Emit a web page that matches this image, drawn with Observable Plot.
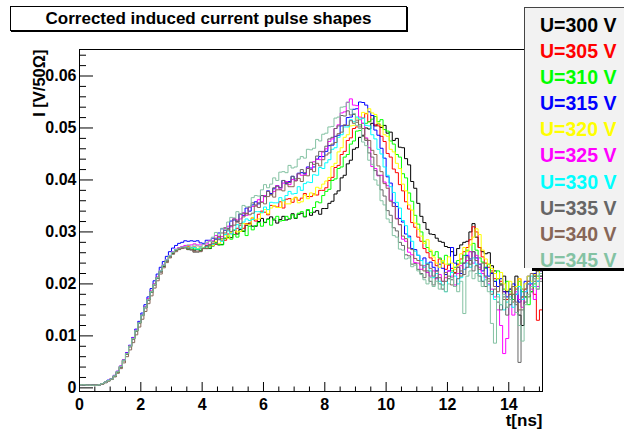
<!DOCTYPE html>
<html><head><meta charset="utf-8">
<script src="https://cdn.jsdelivr.net/npm/d3@7"></script>
<script src="https://cdn.jsdelivr.net/npm/@observablehq/plot@0.6"></script>
<style>
html,body{margin:0;padding:0;background:#fff;}
#wrap{position:relative;width:624px;height:431px;overflow:hidden;font-family:"Liberation Sans",Arial,sans-serif;font-weight:bold;}
#title{position:absolute;left:10px;top:6px;width:395px;height:23px;border:1px solid #000;box-shadow:1px 1px 0 #000;background:#fff;font-size:17px;line-height:23px;text-align:center;}
#legend{position:absolute;left:524px;top:7px;width:110px;height:261px;background:#f2f2f2;border-left:1px solid #444;border-top:1px solid #444;box-sizing:border-box;padding-top:4px;}
#legend div{height:26.1px;line-height:26.1px;padding-left:15px;font-size:19.5px;white-space:nowrap;}
#shadow{position:absolute;left:532px;top:268px;width:92px;height:3px;background:#000;}
</style></head>
<body><div id="wrap"></div>
<script>
// bin layout of the histograms (ns)
const dt = 0.1, tMax = 15.1;
const labels = ["U=300 V","U=305 V","U=310 V","U=315 V","U=320 V","U=325 V","U=330 V","U=335 V","U=340 V","U=345 V"];
const colors = ["#000000","#ff0000","#00ff00","#0000ff","#ffff00","#ff00ff","#00ffff","#666666","#876657","#84c2a3"];
const xTicks = [0,2,4,6,8,10,12,14];
const yTicks = [0,0.01,0.02,0.03,0.04,0.05,0.06];
// bin contents, units of 1e-4 V/50 Ohm, bins of 0.1 ns from 0 to 15.1 ns
const u300 = [6,5,5,5,6,5,6,8,10,14,17,22,30,40,52,65,79,94,109,124,139,154,169,184,198,211,223,234,244,252,259,264,267,269,
270,266,270,265,266,264,269,268,268,273,279,275,276,288,289,289,303,296,305,301,313,317,311,311,320,326,318,325,329,323,317,324,330,323,325,335,326,334,336,329,342,332,338,341,334,345,
345,355,359,373,379,404,409,431,438,459,462,482,486,500,498,509,504,508,501,505,490,492,476,480,463,462,441,429,397,384,
355,330,318,305,296,295,288,282,280,272,270,262,255,268,275,280,282,300,316,290,270,262,258,260,235,225,210,198,215,185,190,170,215,140,120,175,200,185,215,225,215];
const u305 = [6,6,5,5,5,6,6,8,11,14,18,23,31,41,53,66,80,95,110,125,140,156,171,186,200,213,225,236,246,254,261,266,269,271,
271,272,270,271,268,269,269,274,274,275,276,287,283,284,296,298,295,307,313,307,316,315,327,321,334,340,338,333,351,350,348,358,346,363,364,357,366,361,365,374,368,368,373,371,380,380,
385,399,405,424,428,449,455,476,481,499,502,516,519,528,512,524,506,504,484,474,451,444,421,414,391,379,358,344,318,309,
290,282,268,260,250,245,235,248,240,228,236,230,222,238,248,262,270,285,310,300,270,252,240,232,225,210,195,205,185,170,180,165,190,210,175,190,205,195,180,130,150];
const u310 = [6,6,5,5,5,5,6,8,11,14,17,23,31,41,53,66,80,95,110,125,140,155,170,185,199,212,224,235,245,253,260,265,268,270,
270,267,269,267,267,265,269,269,269,274,279,276,275,287,292,286,295,290,301,302,293,311,304,312,318,311,319,324,313,325,330,321,322,330,326,333,327,336,339,330,343,337,347,358,356,370,
378,382,399,402,422,425,444,449,469,475,494,495,509,509,512,517,522,512,516,497,494,475,469,449,444,412,404,375,359,332,
315,300,282,270,262,255,262,250,242,255,238,225,232,245,240,255,265,262,278,265,250,242,230,238,220,205,225,200,190,205,185,170,195,205,185,175,160,185,200,215,210];
const u315 = [6,6,5,5,5,5,6,8,11,15,18,24,32,42,54,68,82,97,113,128,144,160,175,191,206,219,232,243,253,262,269,274,278,280,
283,282,283,282,283,279,278,284,284,288,286,298,306,303,307,321,323,320,335,332,346,340,352,358,354,370,368,379,374,383,389,385,399,393,397,407,399,413,414,412,425,423,425,440,445,445,
455,466,467,484,486,504,505,520,521,536,537,550,549,544,531,524,496,486,461,442,406,394,356,349,326,319,296,292,268,266,
255,245,250,238,242,232,225,238,230,218,225,270,240,232,220,240,255,248,262,250,238,225,232,215,220,205,195,210,185,175,190,200,180,165,190,205,215,200,220,205,225];
const u320 = [6,6,5,5,5,5,6,8,11,14,17,23,31,41,53,66,80,95,110,125,140,155,170,185,199,212,225,236,246,254,261,266,269,271,
270,271,269,270,268,272,269,272,273,274,282,278,285,294,288,299,304,300,301,316,315,314,328,324,325,337,343,335,346,351,347,347,361,354,354,363,367,356,358,371,364,375,371,386,384,392,
398,405,426,432,454,462,482,487,504,505,519,517,530,527,537,529,526,509,504,487,484,459,454,432,422,392,379,352,342,317,
305,292,278,285,265,252,240,232,245,238,252,240,228,235,258,270,262,275,290,306,295,265,248,238,230,220,210,222,200,188,205,180,195,210,190,200,215,205,218,210,230];
const u325 = [6,6,5,5,5,5,6,8,11,14,18,24,32,42,54,67,81,96,111,126,141,156,171,186,200,213,226,237,247,255,262,267,270,272,
274,274,275,277,275,275,276,277,283,283,293,289,291,307,311,310,326,323,325,337,332,348,349,350,362,358,370,378,372,378,389,382,394,397,391,401,399,412,409,410,423,420,435,440,439,455,
460,474,479,499,506,529,531,549,556,544,543,521,509,481,462,426,422,408,409,396,389,361,349,326,314,286,282,261,256,241,
240,228,235,222,215,225,210,218,205,212,225,215,198,220,235,228,245,262,240,255,232,220,212,200,190,175,150,120,66,95,160,140,185,170,155,185,200,190,170,195,210];
const u330 = [6,6,5,5,5,5,6,8,11,14,17,23,31,41,53,66,80,95,110,125,140,155,170,185,199,212,225,236,246,254,261,266,268,270,
271,269,269,270,267,269,269,272,275,276,278,287,282,295,302,296,304,314,307,319,325,322,324,339,339,337,348,343,357,356,356,366,360,370,378,373,374,387,380,393,396,395,410,409,424,422,
433,439,459,462,482,487,502,502,516,512,521,517,519,505,504,487,479,459,450,425,409,387,376,357,346,322,312,289,282,263,
255,245,232,240,225,212,220,205,198,185,210,222,215,200,212,228,240,232,250,238,220,205,215,198,185,170,180,160,150,165,175,155,180,195,170,185,200,215,195,205,220];
const u335 = [6,6,5,5,5,5,6,8,11,14,17,23,31,41,53,66,80,95,110,125,140,155,170,185,199,212,224,235,245,253,260,265,268,270,
269,269,265,261,261,263,268,273,276,281,288,285,298,308,304,312,325,319,334,336,335,348,356,352,356,370,368,378,372,385,388,385,399,395,395,407,402,412,420,414,422,434,430,446,455,454,
465,479,482,499,504,524,523,533,525,526,511,506,484,476,452,444,418,409,381,369,341,332,308,302,280,274,256,254,238,239,
228,220,212,225,205,198,212,200,190,205,215,208,195,210,225,218,232,245,225,235,215,205,195,210,180,190,165,150,175,140,160,180,160,49,150,165,175,195,210,190,205];
const u340 = [6,6,5,5,5,5,6,7,10,13,16,21,28,37,48,60,73,87,102,117,132,147,162,177,192,206,219,231,241,250,257,262,266,268,
270,267,266,262,263,262,268,268,273,278,277,291,287,298,306,301,313,321,316,329,336,333,336,350,347,357,354,368,371,367,381,381,379,392,387,387,398,403,397,409,408,420,416,432,427,439,
448,452,469,472,489,492,506,505,514,509,515,502,499,479,476,457,449,427,416,393,384,359,349,325,314,292,287,269,266,249,
245,236,225,238,230,215,225,212,205,222,210,198,220,232,215,240,252,238,262,245,228,240,215,205,222,195,185,200,170,155,180,195,165,150,175,190,205,220,205,235,225];
const u345 = [6,6,5,5,5,5,6,8,11,14,17,23,31,41,53,66,80,95,110,125,140,155,170,185,199,212,225,236,246,254,261,266,269,271,
271,275,271,275,273,272,276,280,282,290,299,294,307,304,319,328,327,339,335,351,348,349,366,370,369,381,391,385,392,404,399,415,416,414,428,423,425,440,445,442,459,458,461,478,475,488,
490,502,503,519,521,540,541,550,536,528,505,499,473,466,438,430,400,390,360,352,325,318,293,290,267,265,248,250,233,236,
225,218,208,200,212,195,205,190,198,185,200,212,195,185,205,143,215,225,210,220,205,195,208,185,124,86,175,160,180,155,170,165,145,120,90,160,180,195,210,190,220];
const series = [u300,u305,u310,u315,u320,u325,u330,u335,u340,u345];

const rows = [];
series.forEach((vals, s) => {
  vals.forEach((v, i) => rows.push({s: labels[s], t: i * dt, v: v * 1e-4}));
  rows.push({s: labels[s], t: vals.length * dt, v: 0}); // histogram outline closes to zero
});

const W = 624, H = 431, mL = 79, mR = 82, mT = 49, mB = 40;
const pw = W - mL - mR, ph = H - mT - mB;
const xMinor = d3.range(0, tMax, 0.5).filter(d => !xTicks.includes(d));
const yMinor = d3.range(0, 0.065, 0.002).filter((d, i) => i % 5 !== 0);

const chart = Plot.plot({
  width: W, height: H,
  marginLeft: mL, marginRight: mR, marginTop: mT, marginBottom: mB,
  x: {domain: [0, tMax]},
  y: {domain: [-0.0007, 0.0651]},
  color: {domain: labels, range: colors},
  style: {fontFamily: "Liberation Sans, Arial, sans-serif", fontWeight: "bold", fontSize: "16px", background: "transparent", color: "#000"},
  marks: [
    Plot.line(rows, {x: "t", y: "v", z: "s", stroke: "s", curve: "step-after", strokeWidth: 1}),
    Plot.frame({stroke: "#000", strokeWidth: 1}),
    Plot.tickX(xTicks, {x: d => d, insetTop: ph - 9, stroke: "#000"}),
    Plot.tickX(xMinor, {x: d => d, insetTop: ph - 4.5, stroke: "#000"}),
    Plot.tickY(yTicks, {y: d => d, insetRight: pw - 14, stroke: "#000"}),
    Plot.tickY(yMinor, {y: d => d, insetRight: pw - 7, stroke: "#000"}),
    Plot.axisX({ticks: xTicks, tickSize: 0, tickPadding: 7, label: null, tickFormat: d => String(d)}),
    Plot.axisY({ticks: yTicks, tickSize: 0, tickPadding: 3, label: null, tickFormat: d => d === 0 ? "0" : d.toFixed(2)}),
    Plot.text(["t[ns]"], {frameAnchor: "bottom-right", textAnchor: "end", lineAnchor: "middle", dy: 29, fontSize: 17, fill: "#000"}),
    Plot.text(["I [V/50Ω]"], {frameAnchor: "top-left", textAnchor: "end", lineAnchor: "middle", rotate: -90, dx: -40, fontSize: 16.5, fill: "#000"})
  ]
});

const wrap = document.getElementById("wrap");
wrap.appendChild(chart);
const title = document.createElement("div");
title.id = "title";
title.textContent = "Corrected induced current pulse shapes";
wrap.appendChild(title);
const shadow = document.createElement("div");
shadow.id = "shadow";
wrap.appendChild(shadow);
const legend = document.createElement("div");
legend.id = "legend";
labels.forEach((l, i) => {
  const d = document.createElement("div");
  d.textContent = l;
  d.style.color = colors[i];
  legend.appendChild(d);
});
wrap.appendChild(legend);
</script></body></html>
